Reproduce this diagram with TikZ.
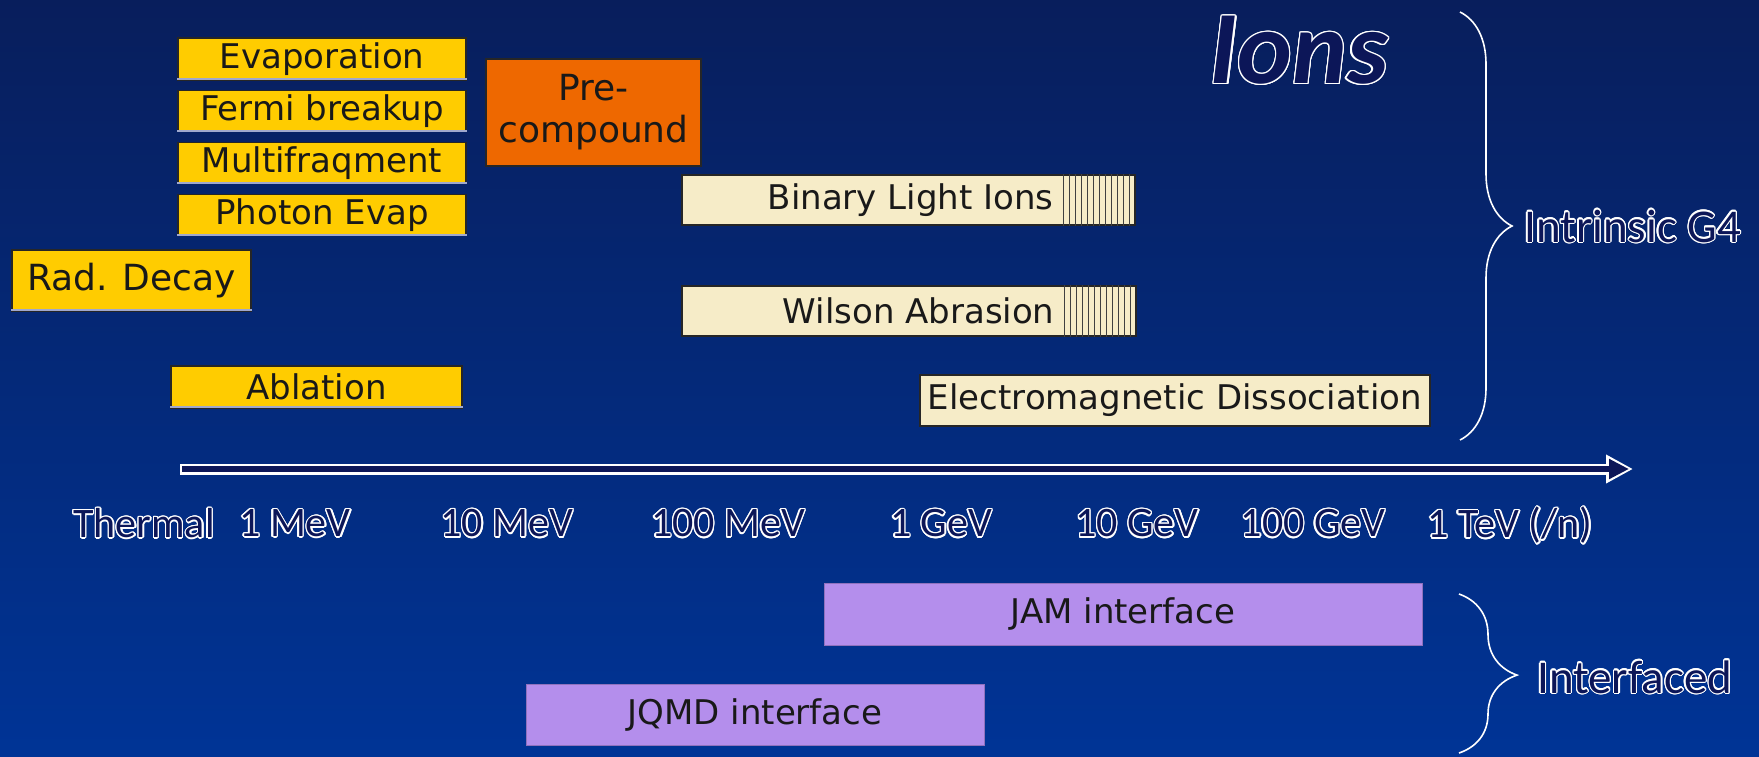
\documentclass[tikz,border=0pt]{standalone}
\usepackage{fontspec}
\setmainfont{DejaVu Sans}
\newfontfamily\calfont{Carlito}
\usepackage{contour}
\contourlength{1.3pt}
\usetikzlibrary{arrows.meta,decorations.pathreplacing}

\definecolor{bgtop}{RGB}{8,30,92}
\definecolor{bgbot}{RGB}{0,52,150}
\definecolor{ink}{RGB}{12,22,88}
\definecolor{boxyellow}{RGB}{255,204,0}
\definecolor{boxorange}{RGB}{238,104,0}
\definecolor{boxcream}{RGB}{246,236,200}
\definecolor{boxlilac}{RGB}{180,142,236}
\definecolor{edgegrey}{RGB}{160,168,205}

% hollow lettering: navy fill with a white rim
\newcommand{\hollow}[1]{\contour{white}{\textcolor{ink}{#1}}}

\tikzset{
  box/.style={draw=black!85, line width=1.4pt, inner sep=0pt, text=black!90,
              font=\fontsize{34}{40}\selectfont},
  ybox/.style={box, fill=boxyellow},
  obox/.style={box, fill=boxorange, align=center, font=\fontsize{36}{42}\selectfont},
  cbox/.style={box, fill=boxcream},
  lbox/.style={box, fill=boxlilac, draw=boxlilac!80!black, line width=0.6pt},
  boxtext/.style={inner sep=0pt, text=black!90, font=\fontsize{34}{40}\selectfont},
  hatch/.style={draw=black!75, line width=1pt},
  lowedge/.style={draw=edgegrey, line width=2.2pt},
  tick/.style={inner sep=0pt, font=\calfont\fontsize{42}{48}\selectfont},
  brace/.style={draw=white, line width=1.6pt, decorate},
  side/.style={inner sep=0pt, anchor=base west, font=\calfont\fontsize{47}{53}\selectfont},
}

\begin{document}
\begin{tikzpicture}[x=1pt,y=-1pt]
\useasboundingbox (0,0) rectangle (1759,756);
\shade[top color=bgtop, bottom color=bgbot] (0,0) rectangle (1759,756);

% low-energy de-excitation models
\node[ybox, minimum width=288, minimum height=42] (evap)   at (322,59)  {Evaporation};
\node[ybox, minimum width=288, minimum height=41] (fermi)  at (322,111) {Fermi breakup};
\node[ybox, minimum width=288, minimum height=41] (multi)  at (322,163) {Multifraqment};
\node[ybox, minimum width=288, minimum height=41] (photon) at (322,215) {Photon Evap};
\node[ybox, minimum width=239, minimum height=61, font=\fontsize{36}{42}\selectfont]
      (rad) at (131.5,280.5) {Rad. Decay};
\node[ybox, minimum width=291, minimum height=42] (abl) at (316.5,387) {Ablation};
\foreach \n in {evap,fermi,multi,photon,rad,abl}
  \draw[lowedge] ([yshift=1.5]\n.south west) -- ([yshift=1.5]\n.south east);
\node[obox, minimum width=215, minimum height=107] (pre) at (593.5,112.5) {Pre-\\compound};

% cascade / abrasion models with hatched upper end
\node[cbox, minimum width=453, minimum height=50] (binary) at (908.5,200) {};
\node[boxtext, anchor=east] (binaryT) at ([xshift=-82]binary.east) {Binary Light Ions};
\node[cbox, minimum width=454, minimum height=50] (wilson) at (909,311) {};
\node[boxtext, anchor=east] (wilsonT) at ([xshift=-82]wilson.east) {Wilson Abrasion};
\foreach \i in {1,...,12} {
  \draw[hatch] ([xshift=-6*\i]binary.north east) -- ([xshift=-6*\i]binary.south east);
  \draw[hatch] ([xshift=-6*\i]wilson.north east) -- ([xshift=-6*\i]wilson.south east);
}
\node[cbox, minimum width=510, minimum height=51] (emd) at (1175,400.5) {Electromagnetic Dissociation};

% energy axis
\coordinate (axL) at (180,469);
\coordinate (axR) at (1633,469);
\draw[white, line width=11pt, -{Triangle[length=27pt,width=27pt]}] (axL) -- (axR);
\draw[ink, line width=6pt, shorten >=4pt, -{Triangle[length=20pt,width=19pt]}]
     ([xshift=2]axL) -- (axR);

\node[tick] (tTh)   at (144,524)  {\hollow{Thermal}};
\node[tick] (t1M)   at (295,524)  {\hollow{1 MeV}};
\node[tick] (t10M)  at (507,524)  {\hollow{10 MeV}};
\node[tick] (t100M) at (728,524)  {\hollow{100 MeV}};
\node[tick] (t1G)   at (941,524)  {\hollow{1 GeV}};
\node[tick] (t10G)  at (1137,524) {\hollow{10 GeV}};
\node[tick] (t100G) at (1313,524) {\hollow{100 GeV}};
\node[tick] (t1T)   at (1510,526) {\hollow{1 TeV (/n)}};

% external codes
\node[lbox, minimum width=598, minimum height=62] (jam)  at (1123,614)   {JAM interface};
\node[lbox, minimum width=458, minimum height=61] (jqmd) at (755,714.5)  {JQMD interface};

% title and groupings
\node[inner sep=0pt, font=\calfont\bfseries\itshape\fontsize{104}{108}\selectfont]
      (title) at (1299,51) {\hollow{Ions}};

\coordinate (b1top) at (1460,12);
\coordinate (b1bot) at (1460,440);
\draw[brace, decoration={brace, amplitude=52pt, aspect=0.5}] (b1top) -- (b1bot);
\node[side] (intr) at (1524,242) {\hollow{Intrinsic G4}};

\coordinate (b2top) at (1459,594);
\coordinate (b2bot) at (1459,753);
\draw[brace, decoration={brace, amplitude=58pt, aspect=0.51}] (b2top) -- (b2bot);
\node[side] (intf) at (1537,693) {\hollow{Interfaced}};
\end{tikzpicture}
\end{document}
